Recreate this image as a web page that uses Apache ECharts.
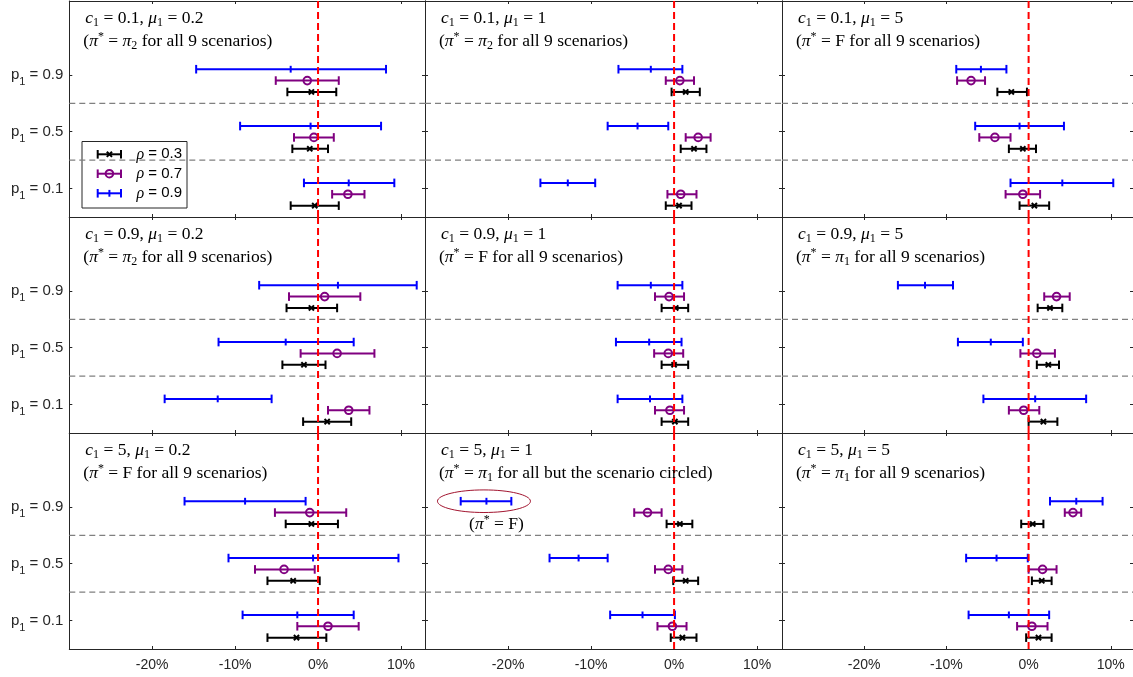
<!DOCTYPE html>
<html><head><meta charset="utf-8">
<script src="https://cdn.jsdelivr.net/npm/echarts@6/dist/echarts.min.js"></script>
<style>html,body{margin:0;padding:0;background:#fff}#c{width:1133px;height:677px}</style>
</head><body><div id="c"></div>
<script>
// ---------------- DATA ----------------
const xTicks = [-20, -10, 0, 10];
const p1Labels = ['0.9', '0.5', '0.1'];          // rows inside each panel, top to bottom
const rhoLabels = ['0.3', '0.7', '0.9'];
const c1Values = ['0.1', '0.9', '5'];            // panel rows
const mu1Values = ['0.2', '1', '5'];             // panel columns
const panelPiStar = ['2', '2', 'F', '2', 'F', '1', 'F', '1', '1'];
const panelScope = ['for all 9 scenarios', 'for all 9 scenarios', 'for all 9 scenarios',
  'for all 9 scenarios', 'for all 9 scenarios', 'for all 9 scenarios',
  'for all 9 scenarios', 'for all but the scenario circled', 'for all 9 scenarios'];

// each array: [low, estimate, high] for p1 = 0.9, 0.5, 0.1 (percent)
const c01_mu02_rho03 = [[-3.7, -0.8, 2.2], [-3.1, -1.0, 1.2], [-3.3, -0.4, 2.5]];
const c01_mu02_rho07 = [[-5.1, -1.3, 2.5], [-2.9, -0.5, 1.9], [1.7, 3.6, 5.6]];
const c01_mu02_rho09 = [[-14.7, -3.3, 8.2], [-9.4, -0.9, 7.6], [-1.7, 3.7, 9.2]];

const c01_mu1_rho03 = [[-0.3, 1.4, 3.1], [0.8, 2.4, 3.9], [-1.0, 0.6, 2.1]];
const c01_mu1_rho07 = [[-1.0, 0.7, 2.4], [1.4, 2.9, 4.4], [-0.8, 0.8, 2.7]];
const c01_mu1_rho09 = [[-6.7, -2.8, 1.0], [-8.0, -4.4, -0.7], [-16.1, -12.8, -9.5]];

const c01_mu5_rho03 = [[-3.8, -2.1, -0.2], [-2.4, -0.7, 0.9], [-1.1, 0.7, 2.5]];
const c01_mu5_rho07 = [[-8.7, -7.0, -5.3], [-6.0, -4.1, -2.2], [-2.8, -0.7, 1.4]];
const c01_mu5_rho09 = [[-8.8, -5.8, -2.7], [-6.5, -1.1, 4.3], [-2.2, 4.1, 10.3]];

const c09_mu02_rho03 = [[-3.8, -0.8, 2.3], [-4.3, -1.7, 0.9], [-1.8, 1.1, 4.0]];
const c09_mu02_rho07 = [[-3.5, 0.8, 5.1], [-2.1, 2.3, 6.8], [1.2, 3.7, 6.2]];
const c09_mu02_rho09 = [[-7.1, 2.4, 11.9], [-12.0, -3.9, 4.3], [-18.5, -12.1, -5.6]];

const c09_mu1_rho03 = [[-1.5, 0.2, 1.7], [-1.5, 0.0, 1.7], [-1.5, 0.1, 1.7]];
const c09_mu1_rho07 = [[-2.3, -0.6, 1.2], [-2.4, -0.7, 1.1], [-2.3, -0.5, 1.2]];
const c09_mu1_rho09 = [[-6.8, -2.8, 1.0], [-7.0, -3.0, 0.9], [-6.8, -2.9, 1.0]];

const c09_mu5_rho03 = [[1.1, 2.6, 4.1], [1.0, 2.4, 3.7], [0.0, 1.8, 3.5]];
const c09_mu5_rho07 = [[1.9, 3.4, 5.0], [-1.0, 1.0, 3.2], [-2.4, -0.6, 1.3]];
const c09_mu5_rho09 = [[-15.9, -12.6, -9.2], [-8.6, -4.6, -0.7], [-5.5, 0.8, 7.0]];

const c5_mu02_rho03 = [[-3.9, -0.8, 2.4], [-6.1, -3.0, 0.2], [-6.1, -2.6, 1.0]];
const c5_mu02_rho07 = [[-5.2, -1.0, 3.4], [-7.6, -4.1, -0.4], [-2.5, 1.2, 4.9]];
const c5_mu02_rho09 = [[-16.1, -8.8, -1.5], [-10.8, -0.6, 9.7], [-9.1, -2.5, 4.3]];

const c5_mu1_rho03 = [[-0.9, 0.7, 2.2], [-0.1, 1.4, 2.9], [-0.4, 1.0, 2.7]];
const c5_mu1_rho07 = [[-4.8, -3.2, -1.5], [-2.3, -0.7, 1.0], [-2.0, -0.2, 1.5]];
const c5_mu1_rho09 = [[-25.7, -22.6, -19.6], [-15.0, -11.5, -8.0], [-7.7, -3.8, 0.1]];

const c5_mu5_rho03 = [[-0.9, 0.5, 1.8], [0.4, 1.6, 2.8], [-0.3, 1.2, 2.8]];
const c5_mu5_rho07 = [[4.4, 5.4, 6.4], [0.0, 1.7, 3.4], [-1.4, 0.4, 2.3]];
const c5_mu5_rho09 = [[2.6, 5.8, 9.0], [-7.6, -3.9, -0.1], [-7.3, -2.4, 2.5]];

const panelData = [
  [c01_mu02_rho03, c01_mu02_rho07, c01_mu02_rho09],
  [c01_mu1_rho03, c01_mu1_rho07, c01_mu1_rho09],
  [c01_mu5_rho03, c01_mu5_rho07, c01_mu5_rho09],
  [c09_mu02_rho03, c09_mu02_rho07, c09_mu02_rho09],
  [c09_mu1_rho03, c09_mu1_rho07, c09_mu1_rho09],
  [c09_mu5_rho03, c09_mu5_rho07, c09_mu5_rho09],
  [c5_mu02_rho03, c5_mu02_rho07, c5_mu02_rho09],
  [c5_mu1_rho03, c5_mu1_rho07, c5_mu1_rho09],
  [c5_mu5_rho03, c5_mu5_rho07, c5_mu5_rho09]
];

// ---------------- LAYOUT / STYLE ----------------
const colLeft = [69.3, 425, 782], colWidth = [355.7, 357, 352], colMax = [12.9, 13.0, 12.7];
const rowTop = [1, 217, 433], rowH = 216;
const yMin = 0.5, yMax = 4.3;
const rowY = [3, 2, 1];
const rhoOffset = [-0.3, -0.1, 0.1];
const rhoColors = ['#000000', '#800080', '#0000ff'];
const rhoMarkers = ['x', 'o', '+'];
const AX = '#262626';
const SANS = 'Liberation Sans, Arial, sans-serif';
const SERIF = 'Liberation Serif, Times New Roman, serif';

function errorbarShapes(xL, xC, xH, y, color, marker) {
  const st = { stroke: color, lineWidth: 2, fill: 'none' };
  const cap = 4.3;
  const ch = [
    { type: 'line', shape: { x1: xL, y1: y, x2: xH, y2: y }, style: st },
    { type: 'line', shape: { x1: xL, y1: y - cap, x2: xL, y2: y + cap }, style: st },
    { type: 'line', shape: { x1: xH, y1: y - cap, x2: xH, y2: y + cap }, style: st }
  ];
  if (marker === 'x') {
    const d = 2.6;
    ch.push({ type: 'line', shape: { x1: xC - d, y1: y - d, x2: xC + d, y2: y + d }, style: st });
    ch.push({ type: 'line', shape: { x1: xC - d, y1: y + d, x2: xC + d, y2: y - d }, style: st });
  } else if (marker === 'o') {
    ch.push({ type: 'circle', shape: { cx: xC, cy: y, r: 3.8 }, style: st });
  } else {
    ch.push({ type: 'line', shape: { x1: xC, y1: y - 3.4, x2: xC, y2: y + 3.4 }, style: st });
  }
  return ch;
}

const serifRich = {
  n: { fontFamily: SERIF, fontSize: 17.5, lineHeight: 21, color: '#000', verticalAlign: 'middle' },
  i: { fontFamily: SERIF, fontStyle: 'italic', fontSize: 17.5, lineHeight: 21, color: '#000', verticalAlign: 'middle' },
  s: { fontFamily: SERIF, fontSize: 12, lineHeight: 12, color: '#000', verticalAlign: 'bottom' },
  p: { fontFamily: SERIF, fontSize: 12, lineHeight: 12, color: '#000', verticalAlign: 'top' }
};

const grids = [], xAxes = [], yAxes = [], series = [], graphics = [];

for (let i = 0; i < 9; i++) {
  const r = Math.floor(i / 3), c = i % 3;
  grids.push({ left: colLeft[c], top: rowTop[r], width: colWidth[c], height: rowH, show: false });
  const xBase = {
    gridIndex: i, type: 'value', min: -30, max: colMax[c],
    axisLine: { show: true, onZero: false, lineStyle: { color: AX, width: 1 } },
    axisTick: { show: true, inside: true, length: 3, customValues: xTicks, lineStyle: { color: AX } },
    splitLine: { show: false }
  };
  xAxes.push(Object.assign({}, xBase, {
    position: 'bottom',
    axisLabel: { show: r === 2, customValues: xTicks, margin: 9, color: AX, fontFamily: SANS, fontSize: 14,
      formatter: v => v + '%' }
  }));
  xAxes.push(Object.assign({}, xBase, { position: 'top', axisLabel: { show: false } }));
  const yBase = {
    gridIndex: i, type: 'value', min: yMin, max: yMax,
    axisLine: { show: true, onZero: false, lineStyle: { color: AX, width: 1 } },
    axisTick: { show: true, inside: true, length: 3, customValues: [1, 2, 3], lineStyle: { color: AX } },
    splitLine: { show: false }
  };
  yAxes.push(Object.assign({}, yBase, {
    position: 'left',
    axisLabel: {
      show: c === 0, customValues: [1, 2, 3], margin: 6,
      formatter: v => '{n|p}{s|1}{n| = ' + p1Labels[3 - Math.round(v)] + '}',
      rich: {
        n: { fontFamily: SANS, fontSize: 15, lineHeight: 26, color: AX, verticalAlign: 'middle' },
        s: { fontFamily: SANS, fontSize: 11, lineHeight: 11, color: AX, verticalAlign: 'bottom' }
      }
    }
  }));
  yAxes.push(Object.assign({}, yBase, { position: 'right', axisLabel: { show: false } }));

  // gray dashed separators
  series.push({
    type: 'custom', xAxisIndex: 2 * i, yAxisIndex: 2 * i, z: 1, silent: true,
    data: [[0, 2]], encode: { x: 0, y: 1 },
    renderItem: (params, api) => {
      const cs = params.coordSys;
      const ch = [1.5, 2.5].map(v => {
        const yy = api.coord([0, v])[1];
        return { type: 'line', shape: { x1: cs.x, y1: yy, x2: cs.x + cs.width, y2: yy },
          style: { stroke: '#808080', lineWidth: 1.3, lineDash: [6, 4] } };
      });
      return { type: 'group', children: ch };
    }
  });

  // error bars
  for (let k = 0; k < 3; k++) {
    const arr = panelData[i][k];
    const data = arr.map((t, p) => [rowY[p] + rhoOffset[k], t[0], t[1], t[2]]);
    series.push({
      type: 'custom', name: 'ρ = ' + rhoLabels[k], xAxisIndex: 2 * i, yAxisIndex: 2 * i, z: 2, silent: true,
      data: data, encode: { x: [1, 2, 3], y: 0 },
      renderItem: (params, api) => {
        const y = api.value(0);
        const pL = api.coord([api.value(1), y]);
        const pC = api.coord([api.value(2), y]);
        const pH = api.coord([api.value(3), y]);
        return { type: 'group', children: errorbarShapes(pL[0], pC[0], pH[0], pL[1], rhoColors[k], rhoMarkers[k]) };
      }
    });
  }

  // red dashed zero line
  series.push({
    type: 'custom', xAxisIndex: 2 * i, yAxisIndex: 2 * i, z: 3, silent: true,
    data: [[0, 2]], encode: { x: 0, y: 1 },
    renderItem: (params, api) => {
      const cs = params.coordSys;
      const xx = api.coord([0, 2])[0];
      return { type: 'line', shape: { x1: xx, y1: cs.y, x2: xx, y2: cs.y + cs.height },
        style: { stroke: '#ff0000', lineWidth: 2, lineDash: [7, 4] } };
    }
  });

  // panel texts
  const line1 = '{i|c}{s|1}{n| = ' + c1Values[r] + ', }{i|μ}{s|1}{n| = ' + mu1Values[c] + '}';
  const ps = panelPiStar[i];
  const line2 = ps === 'F'
    ? '{n|(}{i|π}{p|*}{n| = F ' + panelScope[i] + ')}'
    : '{n|(}{i|π}{p|*}{n| = }{i|π}{s|' + ps + '}{n| ' + panelScope[i] + ')}';
  graphics.push({ type: 'text', x: colLeft[c] + 16, y: rowTop[r] + 17.5, z: 50,
    style: { text: line1, rich: serifRich, align: 'left', verticalAlign: 'middle' } });
  graphics.push({ type: 'text', x: colLeft[c] + 14, y: rowTop[r] + 40.5, z: 50,
    style: { text: line2, rich: serifRich, align: 'left', verticalAlign: 'middle' } });
}

// circled scenario annotation (panel c1=5, mu1=1, p1=0.9, rho=0.9)
const circledPanel = 7;
series.push({
  type: 'custom', xAxisIndex: 2 * circledPanel, yAxisIndex: 2 * circledPanel, z: 4, silent: true,
  data: [[-22.9, rowY[0] + rhoOffset[2]]], encode: { x: 0, y: 1 },
  renderItem: (params, api) => {
    const p = api.coord([api.value(0), api.value(1)]);
    const sz = api.size([5.6, 0.2]);
    return { type: 'group', children: [
      { type: 'ellipse', shape: { cx: p[0], cy: p[1], rx: sz[0], ry: 11.3 },
        style: { stroke: '#a2142f', lineWidth: 1, fill: 'none' } },
      { type: 'text', x: p[0] + 12.5, y: p[1] + 23,
        style: { text: '{n|(}{i|π}{p|*}{n| = F)}', rich: serifRich, align: 'center', verticalAlign: 'middle' } }
    ] };
  }
});

// legend box
const legendChildren = [
  { type: 'rect', shape: { x: 82, y: 141.5, width: 105, height: 66.5 },
    style: { fill: '#ffffff', stroke: AX, lineWidth: 1 } }
];
const legendY = [154.3, 173.7, 193.3];
for (let k = 0; k < 3; k++) {
  errorbarShapes(97.7, 109.4, 121, legendY[k], rhoColors[k], rhoMarkers[k]).forEach(e => legendChildren.push(e));
  legendChildren.push({ type: 'text', x: 136.5, y: legendY[k],
    style: { text: '{r|ρ}{n| = ' + rhoLabels[k] + '}', align: 'left', verticalAlign: 'middle',
      rich: {
        r: { fontFamily: SERIF, fontStyle: 'italic', fontSize: 16, color: '#000' },
        n: { fontFamily: SANS, fontSize: 15, color: '#000' }
      } } });
}
graphics.push({ type: 'group', z: 100, children: legendChildren });

const chart = echarts.init(document.getElementById('c'), null, { renderer: 'canvas' });
chart.setOption({
  animation: false,
  backgroundColor: '#ffffff',
  grid: grids,
  xAxis: xAxes,
  yAxis: yAxes,
  series: series,
  graphic: graphics
});
</script>
</body></html>
